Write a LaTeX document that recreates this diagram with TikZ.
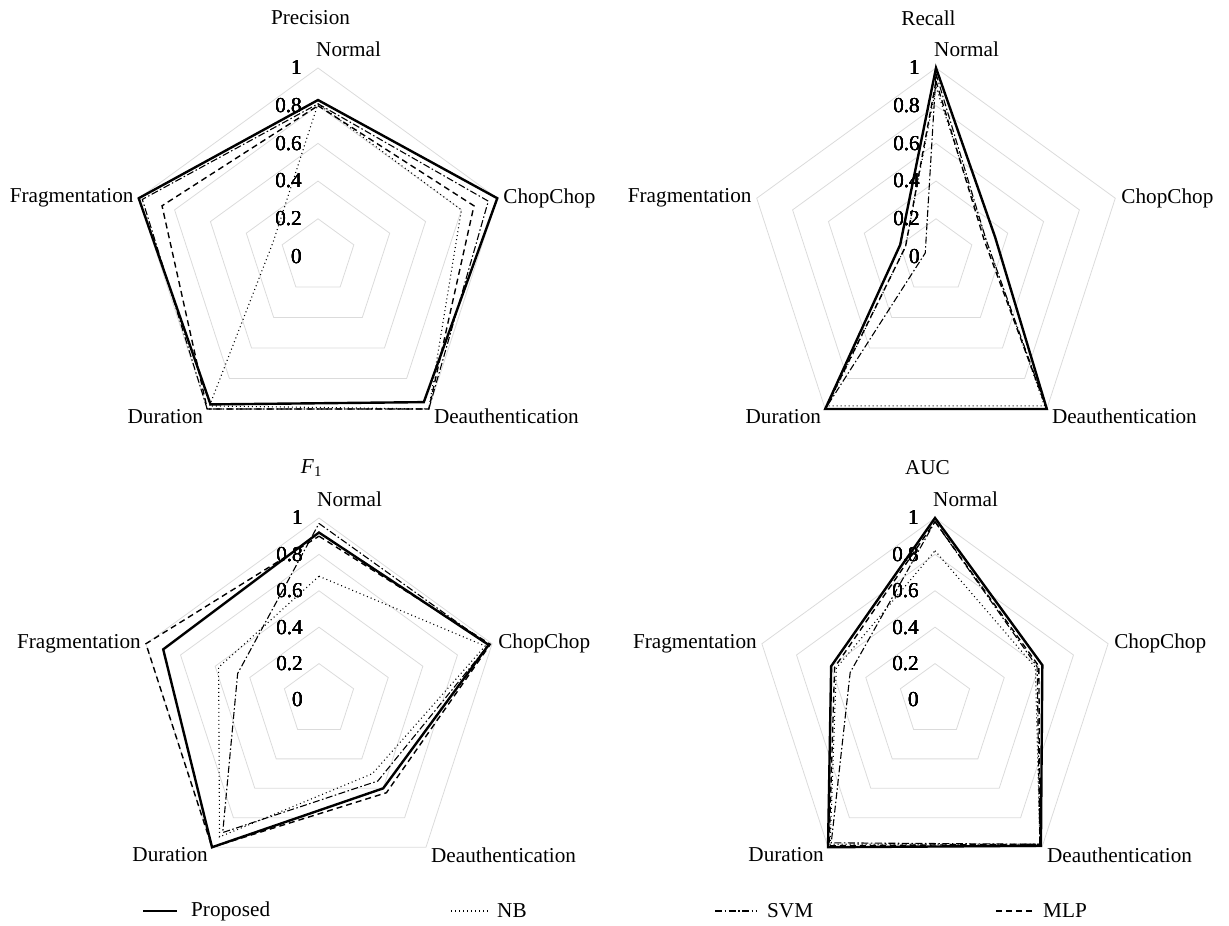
\documentclass[tikz,border=0pt]{standalone}
\usepackage{fontspec}
\setmainfont{Liberation Serif}
\usetikzlibrary{positioning}

% one closed line over the five axes: style, Normal, ChopChop, Deauthentication, Duration, Fragmentation
\newcommand{\radarpoly}[6]{\draw[#1] (90:#2) -- (18:#3) -- (-54:#4) -- (-126:#5) -- (162:#6) -- cycle;}

\begin{document}
\begin{tikzpicture}[x=1pt, y=1pt, font=\fontsize{21.2}{25}\selectfont,
    grid/.style = {draw=black!14, line width=0.8pt},
    proposed/.style = {draw=black, line width=2.4pt},
    nb/.style = {draw=black, line width=1.1pt, dash pattern=on 1pt off 3pt},
    svm/.style = {draw=black, line width=1.1pt, dash pattern=on 7pt off 2.5pt on 1.5pt off 2.5pt},
    mlp/.style = {draw=black, line width=1.4pt, dash pattern=on 6pt off 4pt},
    tick/.style = {anchor=east, inner sep=0pt, xshift=-16pt},
    cat/.style = {inner sep=0pt},
    title/.style = {inner sep=0pt}]

\useasboundingbox (0,0) rectangle (1229,926);

% Precision
\begin{scope}[shift={(318pt,669.5pt)}, x=188.5pt, y=188.5pt]
  \foreach \l in {0.2,0.4,0.6,0.8,1} \radarpoly{grid}{\l}{\l}{\l}{\l}{\l}
  \foreach \l [count=\i] in {0,0.2,0.4,0.6,0.8,1} \node[tick] (pt\i) at (90:\l) {\l};
  \node[title] (pTitle) at (-7.5pt,238.5pt) {Precision};
  \node[cat, anchor=base west, xshift=-2pt, yshift=11pt] (pNormal) at (90:1) {Normal};
  \node[cat, anchor=west, xshift=6pt] (pChop) at (18:1) {ChopChop};
  \node[cat, anchor=north west, xshift=5pt] (pDeauth) at (-54:1) {Deauthentication};
  \node[cat, anchor=north east, xshift=-4pt] (pDur) at (-126:1) {Duration};
  \node[cat, anchor=east, xshift=-5pt] (pFrag) at (162:1) {Fragmentation};
  \radarpoly{proposed}{0.83}{1}{0.955}{0.97}{1}
  \radarpoly{nb}{0.81}{0.80}{1}{0.98}{0.25}
  \radarpoly{svm}{0.81}{0.95}{1}{1}{0.98}
  \radarpoly{mlp}{0.80}{0.87}{1}{1}{0.87}
\end{scope}

% Recall
\begin{scope}[shift={(936pt,669.5pt)}, x=188.5pt, y=188.5pt]
  \foreach \l in {0.2,0.4,0.6,0.8,1} \radarpoly{grid}{\l}{\l}{\l}{\l}{\l}
  \foreach \l [count=\i] in {0,0.2,0.4,0.6,0.8,1} \node[tick] (rt\i) at (90:\l) {\l};
  \node[title] (rTitle) at (-7.5pt,238.5pt) {Recall};
  \node[cat, anchor=base west, xshift=-2pt, yshift=11pt] (rNormal) at (90:1) {Normal};
  \node[cat, anchor=west, xshift=6pt] (rChop) at (18:1) {ChopChop};
  \node[cat, anchor=north west, xshift=5pt] (rDeauth) at (-54:1) {Deauthentication};
  \node[cat, anchor=north east, xshift=-4pt] (rDur) at (-126:1) {Duration};
  \node[cat, anchor=east, xshift=-5pt] (rFrag) at (162:1) {Fragmentation};
  \radarpoly{proposed}{1}{0.33}{1}{1}{0.2}
  \radarpoly{nb}{0.9}{0.28}{0.98}{0.98}{0.17}
  \radarpoly{svm}{0.97}{0.28}{1}{1}{0.06}
  \radarpoly{mlp}{0.93}{0.27}{1}{1}{0.17}
\end{scope}

% F1
\begin{scope}[shift={(319pt,226pt)}, x=182pt, y=182pt]
  \foreach \l in {0.2,0.4,0.6,0.8,1} \radarpoly{grid}{\l}{\l}{\l}{\l}{\l}
  \foreach \l [count=\i] in {0,0.2,0.4,0.6,0.8,1} \node[tick] (ft\i) at (90:\l) {\l};
  \node[title] (fTitle) at (-7.5pt,232pt) {\textit{F}\textsubscript{1}};
  \node[cat, anchor=base west, xshift=-2pt, yshift=11pt] (fNormal) at (90:1) {Normal};
  \node[cat, anchor=west, xshift=6pt] (fChop) at (18:1) {ChopChop};
  \node[cat, anchor=north west, xshift=5pt] (fDeauth) at (-54:1) {Deauthentication};
  \node[cat, anchor=north east, xshift=-4pt] (fDur) at (-126:1) {Duration};
  \node[cat, anchor=east, xshift=-5pt] (fFrag) at (162:1) {Fragmentation};
  \radarpoly{proposed}{0.92}{0.98}{0.60}{1}{0.90}
  \radarpoly{nb}{0.68}{0.96}{0.50}{0.93}{0.58}
  \radarpoly{svm}{0.97}{0.98}{0.55}{0.90}{0.47}
  \radarpoly{mlp}{0.90}{0.99}{0.63}{1}{1}
\end{scope}

% AUC
\begin{scope}[shift={(935pt,226pt)}, x=182pt, y=182pt]
  \foreach \l in {0.2,0.4,0.6,0.8,1} \radarpoly{grid}{\l}{\l}{\l}{\l}{\l}
  \foreach \l [count=\i] in {0,0.2,0.4,0.6,0.8,1} \node[tick] (at\i) at (90:\l) {\l};
  \node[title] (aTitle) at (-7.5pt,232pt) {AUC};
  \node[cat, anchor=base west, xshift=-2pt, yshift=11pt] (aNormal) at (90:1) {Normal};
  \node[cat, anchor=west, xshift=6pt] (aChop) at (18:1) {ChopChop};
  \node[cat, anchor=north west, xshift=5pt] (aDeauth) at (-54:1) {Deauthentication};
  \node[cat, anchor=north east, xshift=-4pt] (aDur) at (-126:1) {Duration};
  \node[cat, anchor=east, xshift=-5pt] (aFrag) at (162:1) {Fragmentation};
  \radarpoly{proposed}{1}{0.62}{0.99}{1}{0.60}
  \radarpoly{nb}{0.82}{0.58}{0.98}{0.98}{0.57}
  \radarpoly{svm}{0.98}{0.59}{0.98}{0.97}{0.49}
  \radarpoly{mlp}{0.98}{0.60}{0.98}{0.99}{0.58}
\end{scope}

% legend
\node[anchor=west, inner sep=0pt] (lgProp) at (191,15) {Proposed};
\node[anchor=west, inner sep=0pt] (lgNB) at (497,15) {NB};
\node[anchor=west, inner sep=0pt] (lgSVM) at (767,15) {SVM};
\node[anchor=west, inner sep=0pt] (lgMLP) at (1043,15) {MLP};
\draw[proposed] ([xshift=-48pt]lgProp.west) -- ([xshift=-14pt]lgProp.west);
\draw[nb] ([xshift=-46pt]lgNB.west) -- ([xshift=-7pt]lgNB.west);
\draw[svm] ([xshift=-52pt]lgSVM.west) -- ([xshift=-11pt]lgSVM.west);
\draw[mlp] ([xshift=-47pt]lgMLP.west) -- ([xshift=-10pt]lgMLP.west);
\end{tikzpicture}
\end{document}
